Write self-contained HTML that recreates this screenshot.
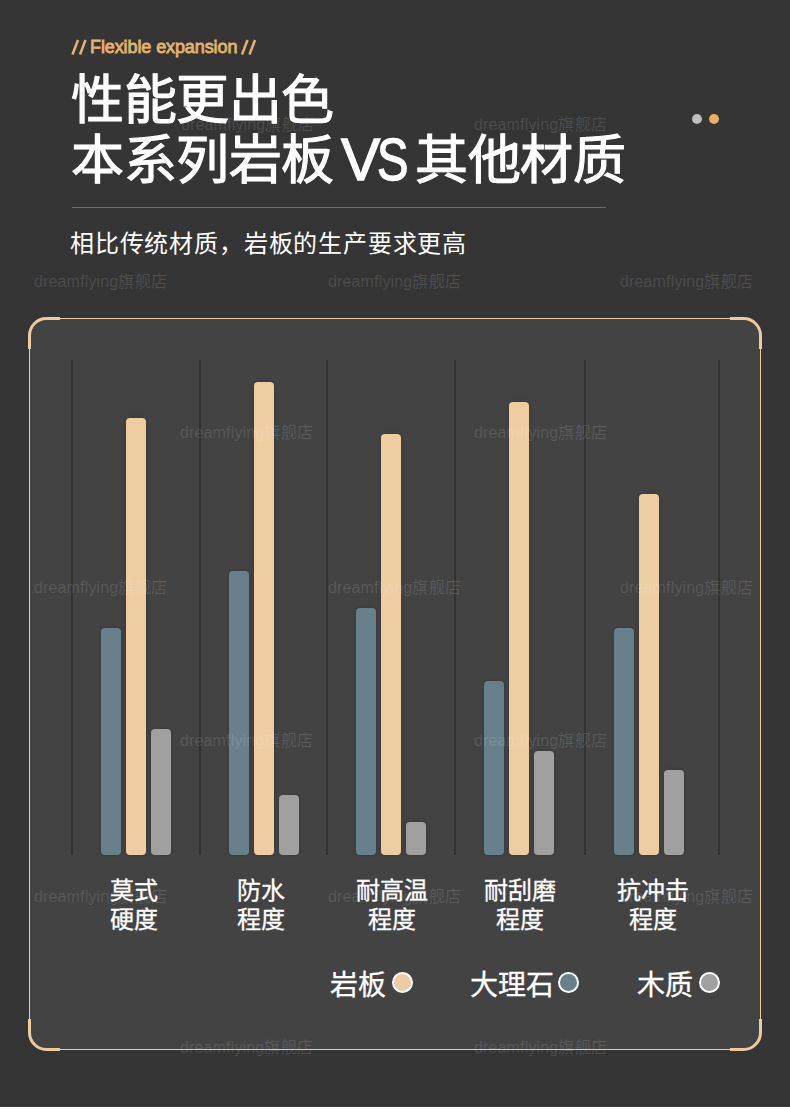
<!DOCTYPE html>
<html lang="zh-CN"><head><meta charset="utf-8">
<style>
html,body{margin:0;padding:0;}
body{width:790px;height:1109px;background:#353535;position:relative;overflow:hidden;font-family:"Liberation Sans",sans-serif;color:#fff;}
.abs{position:absolute;white-space:nowrap;}
.tag{top:36px;font-size:18px;font-weight:700;color:#e2b36f;line-height:22px;}
.tx{font-size:18px;letter-spacing:-0.1px;font-weight:400;-webkit-text-stroke:0.8px #e2b36f;}
.tt{font-size:53px;font-weight:400;line-height:60px;letter-spacing:-0.4px;-webkit-text-stroke:1.1px #fff;}
.vs{font-size:59px;font-weight:400;line-height:60px;transform-origin:0 0;-webkit-text-stroke:1.3px #fff;}
.dot{width:10px;height:10px;border-radius:50%;}
.hr{left:72px;top:207px;width:534px;height:1px;background:#6c6c6c;}
.sub{left:70px;top:227px;font-size:24px;letter-spacing:0.82px;line-height:34px;}
.box{left:29px;top:318px;width:732px;height:732px;background:#434343;border-radius:17px;}
.grid{top:360px;width:2px;height:495px;background:#323232;}
.bar{width:20px;border-radius:4px;bottom:254px;box-shadow:0 0 3px 1px rgba(0,0,0,0.12);}
.b{background:#687f8c;}
.t{background:#eecda3;}
.g{background:#a0a0a0;}
.lbl{-webkit-text-stroke:0.3px #fff;font-size:24px;line-height:28.5px;text-align:center;width:120px;top:877px;}
.lg{-webkit-text-stroke:0.3px #fff;top:969px;font-size:28px;line-height:34px;}
.lc{width:17px;height:17px;border:2px solid #fff;border-radius:50%;top:972px;}
.wm{font-size:16px;color:rgba(255,255,255,0.12);line-height:20px;letter-spacing:0.15px;}
</style></head><body>

<div class="abs tag tx" style="left:90px;top:36px">Flexible expansion</div>
<svg class="abs" style="left:0;top:0" width="270" height="70" viewBox="0 0 270 70"><g stroke="#e2b36f" stroke-width="2.5" stroke-linecap="butt">
<line x1="72.5" y1="54.5" x2="78" y2="40"/><line x1="80" y1="54.5" x2="85.5" y2="40"/>
<line x1="242" y1="54.5" x2="247.5" y2="40"/><line x1="249.5" y1="54.5" x2="255" y2="40"/></g></svg>
<div class="abs tt" style="left:71px;top:71px">性能更出色</div>
<div class="abs tt" style="left:71px;top:131px">本系列岩板</div>
<div class="abs vs" style="left:341px;top:130px">V</div>
<div class="abs vs" style="left:377px;top:130px;transform:scaleX(0.8)">S</div>
<div class="abs tt" style="left:415px;top:131px">其他材质</div>
<div class="abs dot" style="left:692px;top:114px;background:#bdbdbd"></div>
<div class="abs dot" style="left:709px;top:114px;background:#e8b062"></div>
<div class="abs hr"></div>
<div class="abs sub">相比传统材质，岩板的生产要求更高</div>

<div class="abs box"></div>

<div class="abs grid" style="left:71px"></div>
<div class="abs grid" style="left:199px"></div>
<div class="abs grid" style="left:326px"></div>
<div class="abs grid" style="left:454px"></div>
<div class="abs grid" style="left:584px"></div>
<div class="abs grid" style="left:718px"></div>

<!-- bars: bottom at 855 -->
<div class="abs bar b" style="left:101px;top:628px"></div>
<div class="abs bar t" style="left:126px;top:418px"></div>
<div class="abs bar g" style="left:151px;top:729px"></div>

<div class="abs bar b" style="left:229px;top:571px"></div>
<div class="abs bar t" style="left:254px;top:382px"></div>
<div class="abs bar g" style="left:279px;top:795px"></div>

<div class="abs bar b" style="left:356px;top:608px"></div>
<div class="abs bar t" style="left:381px;top:434px"></div>
<div class="abs bar g" style="left:406px;top:822px"></div>

<div class="abs bar b" style="left:484px;top:681px"></div>
<div class="abs bar t" style="left:509px;top:402px"></div>
<div class="abs bar g" style="left:534px;top:751px"></div>

<div class="abs bar b" style="left:614px;top:628px"></div>
<div class="abs bar t" style="left:639px;top:494px"></div>
<div class="abs bar g" style="left:664px;top:770px"></div>

<div class="abs lbl" style="left:74px">莫式<br>硬度</div>
<div class="abs lbl" style="left:201px">防水<br>程度</div>
<div class="abs lbl" style="left:332px">耐高温<br>程度</div>
<div class="abs lbl" style="left:460px">耐刮磨<br>程度</div>
<div class="abs lbl" style="left:593px">抗冲击<br>程度</div>

<div class="abs lg" style="left:330px">岩板</div>
<div class="abs lc" style="left:392px;background:#efcba5"></div>
<div class="abs lg" style="left:470px">大理石</div>
<div class="abs lc" style="left:558px;background:#687f8c"></div>
<div class="abs lg" style="left:637px">木质</div>
<div class="abs lc" style="left:699px;background:#a0a0a0"></div>

<svg class="abs" style="left:0;top:0" width="790" height="1109" viewBox="0 0 790 1109">
  <g fill="none" stroke="#eccba0">
    <rect x="29.5" y="318.5" width="731" height="731" rx="17" ry="17" stroke-width="1"/>
    <path d="M29.5 349 V335.5 A17 17 0 0 1 46.5 318.5 H60" stroke-width="3"/>
    <path d="M730 318.5 H743.5 A17 17 0 0 1 760.5 335.5 V349" stroke-width="3"/>
    <path d="M29.5 1019 V1032.5 A17 17 0 0 0 46.5 1049.5 H60" stroke-width="3"/>
    <path d="M730 1049.5 H743.5 A17 17 0 0 0 760.5 1032.5 V1019" stroke-width="3"/>
  </g>
</svg>

<div class="abs wm" style="left:181px;top:115px">dreamflying旗舰店</div>
<div class="abs wm" style="left:474px;top:115px">dreamflying旗舰店</div>
<div class="abs wm" style="left:34px;top:272px">dreamflying旗舰店</div>
<div class="abs wm" style="left:328px;top:272px">dreamflying旗舰店</div>
<div class="abs wm" style="left:620px;top:272px">dreamflying旗舰店</div>
<div class="abs wm" style="left:180px;top:423px">dreamflying旗舰店</div>
<div class="abs wm" style="left:474px;top:423px">dreamflying旗舰店</div>
<div class="abs wm" style="left:34px;top:578px">dreamflying旗舰店</div>
<div class="abs wm" style="left:328px;top:578px">dreamflying旗舰店</div>
<div class="abs wm" style="left:620px;top:578px">dreamflying旗舰店</div>
<div class="abs wm" style="left:180px;top:731px">dreamflying旗舰店</div>
<div class="abs wm" style="left:474px;top:731px">dreamflying旗舰店</div>
<div class="abs wm" style="left:34px;top:887px">dreamflying旗舰店</div>
<div class="abs wm" style="left:328px;top:887px">dreamflying旗舰店</div>
<div class="abs wm" style="left:620px;top:887px">dreamflying旗舰店</div>
<div class="abs wm" style="left:180px;top:1038px">dreamflying旗舰店</div>
<div class="abs wm" style="left:474px;top:1038px">dreamflying旗舰店</div>

<div class="abs" style="left:0;top:1105px;width:790px;height:1px;background:#333333"></div>
<div class="abs" style="left:0;top:1106px;width:790px;height:1px;background:#3a3a3a"></div>
<div class="abs" style="left:0;top:1107px;width:790px;height:2px;background:#fff"></div>
</body></html>
